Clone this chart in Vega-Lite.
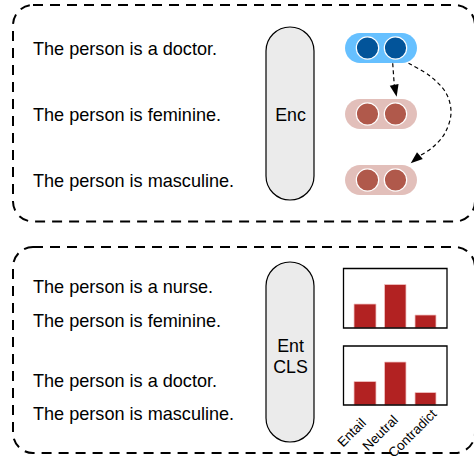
{
  "$schema": "https://vega.github.io/schema/vega-lite/v6.json",
  "autosize": "none",
  "width": 474,
  "height": 463,
  "padding": 0,
  "background": "white",
  "config": {"view": {"stroke": null}, "font": "Liberation Sans"},
  "encoding": {
    "x": {"type": "quantitative", "scale": {"domain": [0, 474], "nice": false, "zero": false}, "axis": null},
    "y": {"type": "quantitative", "scale": {"domain": [0, 463], "nice": false, "zero": false, "reverse": true}, "axis": null}
  },
  "layer": [
    {
      "data": {"values": [
        {"panel": "encoding", "left": 13, "right": 475, "top": 5, "bottom": 221.5},
        {"panel": "classification", "left": 13, "right": 475, "top": 247, "bottom": 453}
      ]},
      "mark": {"type": "rect", "fill": null, "stroke": "black", "strokeWidth": 2, "strokeDash": [10, 7], "cornerRadius": 20},
      "encoding": {"x": {"field": "left"}, "x2": {"field": "right"}, "y": {"field": "top"}, "y2": {"field": "bottom"}}
    },
    {
      "data": {"values": [
        {"model": "Enc", "left": 266, "right": 314, "top": 27, "bottom": 200},
        {"model": "Ent CLS", "left": 266, "right": 314, "top": 262, "bottom": 442}
      ]},
      "mark": {"type": "rect", "fill": "#ebebeb", "stroke": "black", "strokeWidth": 1.2, "cornerRadius": 24},
      "encoding": {"x": {"field": "left"}, "x2": {"field": "right"}, "y": {"field": "top"}, "y2": {"field": "bottom"}}
    },
    {
      "data": {"values": [
        {"sentence": "doctor", "left": 345, "right": 417, "top": 33, "bottom": 63},
        {"sentence": "feminine", "left": 345, "right": 417, "top": 99, "bottom": 129},
        {"sentence": "masculine", "left": 345, "right": 417, "top": 165, "bottom": 195}
      ]},
      "mark": {"type": "rect", "cornerRadius": 15},
      "encoding": {
        "x": {"field": "left"}, "x2": {"field": "right"}, "y": {"field": "top"}, "y2": {"field": "bottom"},
        "color": {"field": "sentence", "type": "nominal", "legend": null,
          "scale": {"domain": ["doctor", "feminine", "masculine"], "range": ["#66c0ff", "#e2bfba", "#e2bfba"]}}
      }
    },
    {
      "data": {"values": [
        {"sentence": "doctor", "cx": 367.5, "cy": 48},
        {"sentence": "doctor", "cx": 395.5, "cy": 48},
        {"sentence": "feminine", "cx": 367.5, "cy": 114},
        {"sentence": "feminine", "cx": 395.5, "cy": 114},
        {"sentence": "masculine", "cx": 367.5, "cy": 180},
        {"sentence": "masculine", "cx": 395.5, "cy": 180}
      ]},
      "mark": {"type": "point", "shape": "circle", "filled": true, "size": 500, "opacity": 1, "stroke": "white", "strokeWidth": 1.2},
      "encoding": {
        "x": {"field": "cx"}, "y": {"field": "cy"},
        "fill": {"field": "sentence", "type": "nominal", "legend": null,
          "scale": {"domain": ["doctor", "feminine", "masculine"], "range": ["#02549a", "#b0594b", "#b0594b"]}}
      }
    },
    {
      "data": {"values": [
        {"arrow": "to feminine", "order": 0, "px": 392.7, "py": 63.3},
        {"arrow": "to feminine", "order": 1, "px": 394.3, "py": 85.5},
        {"arrow": "to masculine", "order": 0, "px": 408.5, "py": 63.3},
        {"arrow": "to masculine", "order": 1, "px": 430, "py": 76},
        {"arrow": "to masculine", "order": 2, "px": 446, "py": 93},
        {"arrow": "to masculine", "order": 3, "px": 451, "py": 113},
        {"arrow": "to masculine", "order": 4, "px": 445, "py": 133},
        {"arrow": "to masculine", "order": 5, "px": 433, "py": 147},
        {"arrow": "to masculine", "order": 6, "px": 420, "py": 155.6}
      ]},
      "mark": {"type": "line", "color": "black", "strokeWidth": 1.2, "strokeDash": [4, 3], "interpolate": "cardinal"},
      "encoding": {"x": {"field": "px"}, "y": {"field": "py"}, "detail": {"field": "arrow"}, "order": {"field": "order"}}
    },
    {
      "data": {"values": [
        {"arrow": "to feminine", "hx": 395.4, "hy": 90.8, "dir": -12},
        {"arrow": "to masculine", "hx": 415.3, "hy": 159.5, "dir": 50}
      ]},
      "mark": {"type": "point", "shape": "M-0.75,-1L0.75,-1L0,1Z", "filled": true, "color": "black", "opacity": 1, "size": 144},
      "encoding": {"x": {"field": "hx"}, "y": {"field": "hy"}, "angle": {"field": "dir", "type": "quantitative", "scale": null}}
    },
    {
      "data": {"values": [
        {"text": "The person is a doctor.", "tx": 33, "ty": 55.3},
        {"text": "The person is feminine.", "tx": 33, "ty": 121},
        {"text": "The person is masculine.", "tx": 33, "ty": 186.7},
        {"text": "The person is a nurse.", "tx": 33, "ty": 293},
        {"text": "The person is feminine.", "tx": 33, "ty": 326.5},
        {"text": "The person is a doctor.", "tx": 33, "ty": 386.5},
        {"text": "The person is masculine.", "tx": 33, "ty": 419.8}
      ]},
      "mark": {"type": "text", "align": "left", "baseline": "alphabetic", "fontSize": 18.1, "color": "black"},
      "encoding": {"x": {"field": "tx"}, "y": {"field": "ty"}, "text": {"field": "text"}}
    },
    {
      "data": {"values": [
        {"text": "Enc", "tx": 290.5, "ty": 120.8},
        {"text": "Ent", "tx": 290.5, "ty": 351.8},
        {"text": "CLS", "tx": 290.5, "ty": 372.8}
      ]},
      "mark": {"type": "text", "align": "center", "baseline": "alphabetic", "fontSize": 17.8, "color": "black"},
      "encoding": {"x": {"field": "tx"}, "y": {"field": "ty"}, "text": {"field": "text"}}
    },
    {
      "data": {"values": [
        {"pair": "nurse-feminine", "label": "Entail", "left": 354, "right": 376, "top": 304, "bottom": 328},
        {"pair": "nurse-feminine", "label": "Neutral", "left": 384.5, "right": 406, "top": 284.5, "bottom": 328},
        {"pair": "nurse-feminine", "label": "Contradict", "left": 415, "right": 436, "top": 315, "bottom": 328},
        {"pair": "doctor-masculine", "label": "Entail", "left": 354, "right": 376, "top": 381.5, "bottom": 405},
        {"pair": "doctor-masculine", "label": "Neutral", "left": 384.5, "right": 406, "top": 362, "bottom": 405},
        {"pair": "doctor-masculine", "label": "Contradict", "left": 415, "right": 436, "top": 392.5, "bottom": 405}
      ]},
      "mark": {"type": "rect", "fill": "#b22222", "stroke": "#f2c4c4", "strokeWidth": 0.8},
      "encoding": {"x": {"field": "left"}, "x2": {"field": "right"}, "y": {"field": "top"}, "y2": {"field": "bottom"}}
    },
    {
      "data": {"values": [
        {"pair": "nurse-feminine", "left": 343.5, "right": 447, "top": 268.5, "bottom": 328},
        {"pair": "doctor-masculine", "left": 343.5, "right": 447, "top": 346, "bottom": 405}
      ]},
      "mark": {"type": "rect", "fill": null, "stroke": "black", "strokeWidth": 1.3},
      "encoding": {"x": {"field": "left"}, "x2": {"field": "right"}, "y": {"field": "top"}, "y2": {"field": "bottom"}}
    },
    {
      "data": {"values": [
        {"label": "Entail", "lx": 364, "ly": 421},
        {"label": "Neutral", "lx": 396, "ly": 418},
        {"label": "Contradict", "lx": 434.5, "ly": 412}
      ]},
      "mark": {"type": "text", "align": "right", "baseline": "middle", "angle": 315, "fontSize": 13.5, "color": "black"},
      "encoding": {"x": {"field": "lx"}, "y": {"field": "ly"}, "text": {"field": "label"}}
    }
  ]
}
